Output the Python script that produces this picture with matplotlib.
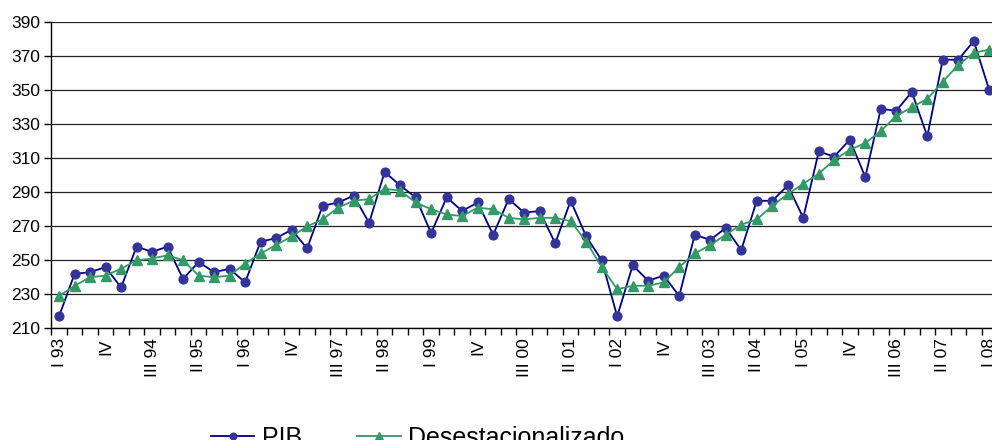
import matplotlib
matplotlib.use("Agg")
import matplotlib.pyplot as plt
from matplotlib.ticker import FixedLocator, NullFormatter

plt.rcParams["font.family"] = ["Liberation Sans", "DejaVu Sans"]

# quarterly values, I 93 .. I 08
pib = [
    217, 242, 243, 246, 234, 258, 255, 258, 239, 249,
    243, 245, 237, 261, 263, 268, 257, 282, 284, 288,
    272, 302, 294, 287, 266, 287, 279, 284, 265, 286,
    278, 279, 260, 285, 264, 250, 217, 247, 238, 241,
    229, 265, 262, 269, 256, 285, 285, 294, 275, 314,
    311, 321, 299, 339, 338, 349, 323, 368, 368, 379,
    350,
]
desest = [
    229, 235, 240, 241, 245, 250, 251, 253, 250, 241,
    240, 241, 248, 254, 259, 264, 270, 274, 281, 285,
    286, 292, 291, 284, 280, 277, 276, 281, 280, 275,
    274, 275, 275, 273, 261, 246, 233, 235, 235, 237,
    246, 254, 259, 265, 271, 274, 282, 289, 295, 301,
    309, 315, 319, 326, 335, 340, 345, 355, 365, 372,
    374,
]
tick_labels = [
    "I 93", "IV", "III 94", "II 95", "I 96", "IV", "III 97", "II 98",
    "I 99", "IV", "III 00", "II 01", "I 02", "IV", "III 03", "II 04",
    "I 05", "IV", "III 06", "II 07", "I 08",
]

x = list(range(len(pib)))

fig = plt.figure(figsize=(9.92, 4.40), dpi=100)
ax = fig.add_axes([0.0517, 0.2539, 0.9534, 0.6954])

ax.plot(x, pib, color="#000080", lw=1.3, marker="o", ms=6.3,
        mfc="#333399", mec="#333399", label="PIB", zorder=3)
ax.plot(x, desest, color="#339966", lw=1.3, marker="^", ms=7.5,
        mfc="#339966", mec="#339966", label="Desestacionalizado", zorder=4)

ax.set_xlim(-0.5, len(pib) - 0.5)
ax.set_ylim(210, 390)
ax.set_yticks(range(210, 391, 20))
ax.yaxis.grid(True, color="#222222", lw=0.9)
ax.set_axisbelow(True)

# ticks between categories, labels every third quarter
ax.xaxis.set_major_locator(FixedLocator([i - 0.5 for i in range(len(pib) + 1)]))
ax.xaxis.set_major_formatter(NullFormatter())
ax.xaxis.set_minor_locator(FixedLocator(x[::3]))
ax.set_xticklabels(tick_labels, minor=True, rotation=90, fontsize=12.5)
ax.tick_params(axis="x", which="major", length=5, width=1, direction="out")
ax.tick_params(axis="x", which="minor", length=0, pad=7)
ax.tick_params(axis="y", length=5, width=1, labelsize=12.5, pad=3)

for side in ["top", "right"]:
    ax.spines[side].set_visible(False)
for side in ["left", "bottom"]:
    ax.spines[side].set_color("black")
    ax.spines[side].set_linewidth(1)

fig.legend(loc="center", bbox_to_anchor=(0.421, 0.005), ncol=2,
           frameon=False, fontsize=18, handlelength=1.75, handletextpad=0.3,
           columnspacing=2.2, markerscale=0.75)

fig.savefig("out.png", dpi=100)
